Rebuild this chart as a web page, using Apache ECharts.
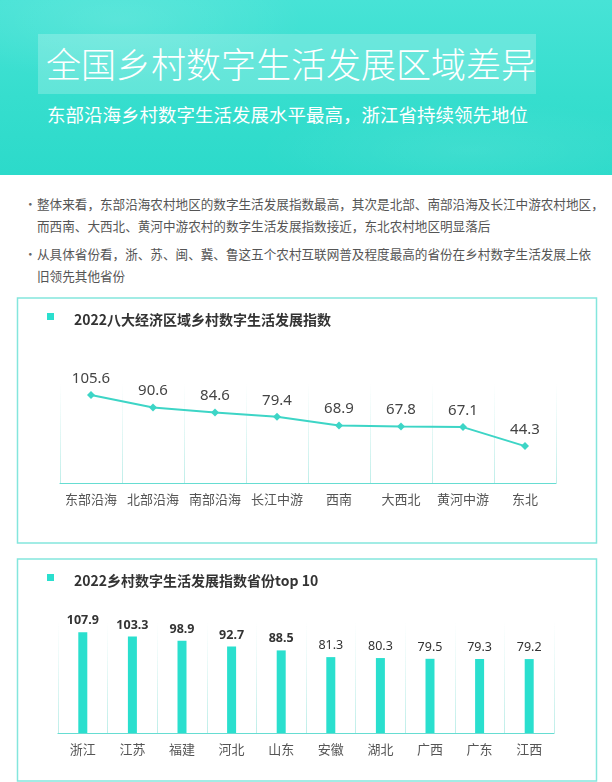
<!DOCTYPE html>
<html>
<head>
<meta charset="utf-8">
<script src="https://cdn.jsdelivr.net/npm/echarts@6/dist/echarts.min.js"></script>
<style>
    body { margin: 0; width: 612px; height: 782px; position: relative; overflow: hidden; background: #fff;
        font-family: "Noto Sans CJK SC", "Noto Sans", sans-serif; }
    .header { position: absolute; left: 0; top: 0; width: 612px; height: 175px;
        background:
            radial-gradient(ellipse 260px 90px at 120px 20px, rgba(255,255,255,0.12), rgba(255,255,255,0) 70%),
            radial-gradient(ellipse 300px 70px at 470px 150px, rgba(255,255,255,0.08), rgba(255,255,255,0) 70%),
            linear-gradient(180deg, #47e3d6 0%, #36dece 55%, #2cdaca 100%); }
    .title-box { position: absolute; left: 38px; top: 34px; width: 498px; height: 60px;
        background: rgba(255,255,255,0.22); }
    .title { position: absolute; left: 46px; top: 41px; color: #fff; font-size: 35px; line-height: 44px;
        font-weight: 300; white-space: nowrap; }
    .subtitle { position: absolute; left: 47px; top: 101px; color: #fff; font-size: 18.5px; line-height: 26px;
        font-weight: 400; white-space: nowrap; }
    .bullets { position: absolute; left: 0; top: 193px; width: 612px; color: #555; font-size: 12.6px; line-height: 22px; }
    .bullets p { margin: 0 0 6px 0; padding-left: 37px; position: relative; white-space: nowrap; }
    .bullets p::before { content: "•"; position: absolute; left: 24px; top: 0; color: #666; }
    #main { position: absolute; left: 0; top: 0; width: 612px; height: 782px; }
</style>
</head>
<body>
<div class="header">
    <div class="title-box"></div>
    <div class="title">全国乡村数字生活发展区域差异</div>
    <div class="subtitle">东部沿海乡村数字生活发展水平最高，浙江省持续领先地位</div>
</div>
<div class="bullets">
    <p>整体来看，东部沿海农村地区的数字生活发展指数最高，其次是北部、南部沿海及长江中游农村地区，<br>而西南、大西北、黄河中游农村的数字生活发展指数接近，东北农村地区明显落后</p>
    <p>从具体省份看，浙、苏、闽、冀、鲁这五个农村互联网普及程度最高的省份在乡村数字生活发展上依<br>旧领先其他省份</p>
</div>
<div id="main"></div>
<script>
    // 八大经济区域
    var regionNames = ['东部沿海', '北部沿海', '南部沿海', '长江中游', '西南', '大西北', '黄河中游', '东北'];
    var regionIndex = [105.6, 90.6, 84.6, 79.4, 68.9, 67.8, 67.1, 44.3];

    // 省份 top 10
    var provinceNames = ['浙江', '江苏', '福建', '河北', '山东', '安徽', '湖北', '广西', '广东', '江西'];
    var provinceIndex = [107.9, 103.3, 98.9, 92.7, 88.5, 81.3, 80.3, 79.5, 79.3, 79.2];

    var teal = '#2adfce';
    var borderColor = '#84e6dd';

    // 竖向分隔线，越往上越淡
    function fadeLine(top, bottom) {
        return new echarts.graphic.LinearGradient(0, top, 0, bottom, [
            {offset: 0, color: 'rgba(200,240,236,0)'},
            {offset: 0.3, color: 'rgba(200,240,236,0.3)'},
            {offset: 1, color: 'rgba(190,238,233,1)'}
        ], true);
    }

    var myChart = echarts.init(document.getElementById('main'), null, {renderer: 'canvas'});

    var option = {
        animation: false,
        title: [
            {
                text: '2022八大经济区域乡村数字生活发展指数',
                left: 69, top: 308,
                textStyle: {fontSize: 14, fontWeight: 'bold', color: '#333', fontFamily: 'Noto Sans CJK SC'}
            },
            {
                text: '2022乡村数字生活发展指数省份top 10',
                left: 69, top: 569,
                textStyle: {fontSize: 14, fontWeight: 'bold', color: '#333', fontFamily: 'Noto Sans CJK SC'}
            }
        ],
        graphic: [
            {type: 'rect', shape: {x: 17.5, y: 298, width: 579, height: 245},
                style: {fill: 'none', stroke: borderColor, lineWidth: 1.5}, z: -1},
            {type: 'rect', shape: {x: 17.5, y: 559, width: 579, height: 222},
                style: {fill: 'none', stroke: borderColor, lineWidth: 1.5}, z: -1},
            {type: 'rect', shape: {x: 47, y: 313, width: 7, height: 7}, style: {fill: teal}},
            {type: 'rect', shape: {x: 47, y: 574, width: 7, height: 7}, style: {fill: teal}}
        ],
        grid: [
            {left: 60, right: 56, top: 383, bottom: 299},
            {left: 58, right: 58, top: 621, bottom: 49}
        ],
        xAxis: [
            {
                gridIndex: 0, type: 'category', data: regionNames,
                axisLine: {lineStyle: {color: '#66ddd2', width: 1.2}},
                axisTick: {show: false},
                axisLabel: {interval: 0, color: '#555', fontSize: 13, margin: 10, fontFamily: 'Noto Sans CJK SC'},
                splitLine: {show: true, interval: 0, lineStyle: {color: fadeLine(383, 483), width: 1}}
            },
            {
                gridIndex: 1, type: 'category', data: provinceNames,
                axisLine: {lineStyle: {color: '#66ddd2', width: 1.2}},
                axisTick: {show: false},
                axisLabel: {interval: 0, color: '#555', fontSize: 13, margin: 10, fontFamily: 'Noto Sans CJK SC'},
                splitLine: {show: true, interval: 0, lineStyle: {color: fadeLine(621, 733), width: 1}}
            }
        ],
        yAxis: [
            {gridIndex: 0, type: 'value', min: 0, max: 120, show: false},
            {gridIndex: 1, type: 'value', min: 0, max: 120, show: false}
        ],
        series: [
            {
                type: 'line',
                xAxisIndex: 0, yAxisIndex: 0,
                data: regionIndex,
                symbol: 'diamond',
                symbolSize: 8,
                clip: false,
                lineStyle: {color: '#3dd5c6', width: 2},
                itemStyle: {color: '#3dd5c6'},
                label: {
                    show: true, position: 'top', distance: 5,
                    color: '#444', fontSize: 15, fontFamily: 'Noto Sans'
                }
            },
            {
                type: 'bar',
                xAxisIndex: 1, yAxisIndex: 1,
                barWidth: 9,
                clip: false,
                itemStyle: {color: teal},
                label: {
                    show: true, position: 'top', distance: 5,
                    color: '#333', fontSize: 12.5, fontFamily: 'Noto Sans'
                },
                // 前五名数值加粗
                data: provinceIndex.map(function (v, i) {
                    return i < 5 ? {value: v, label: {fontWeight: 'bold'}} : v;
                })
            }
        ]
    };

    myChart.setOption(option);
</script>
</body>
</html>
